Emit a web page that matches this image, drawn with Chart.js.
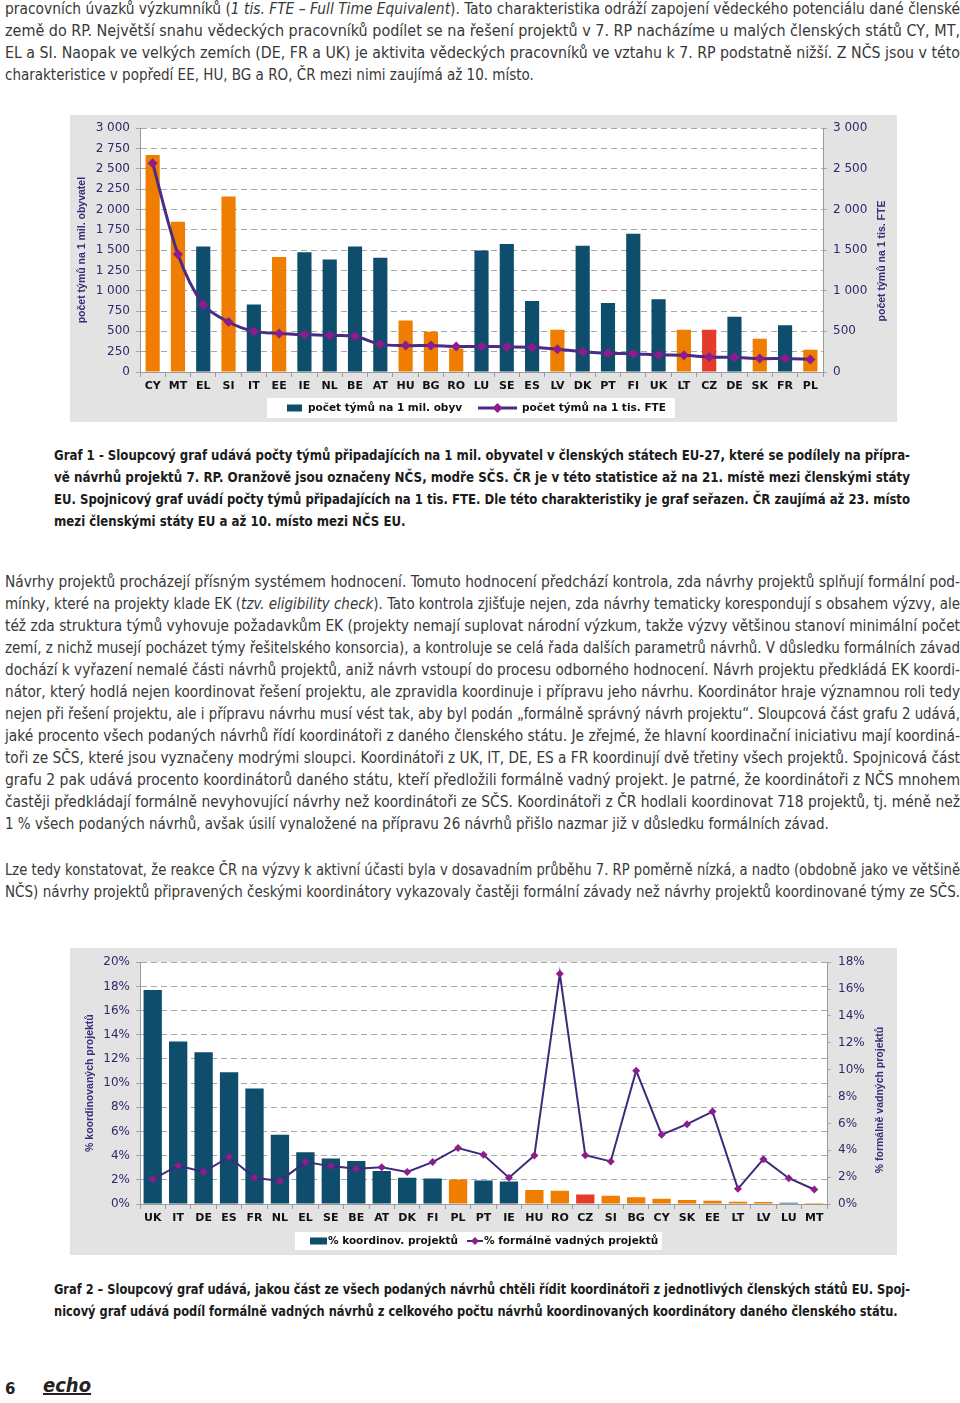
<!DOCTYPE html>
<html lang="cs">
<head>
<meta charset="utf-8">
<script src="https://cdn.jsdelivr.net/npm/chart.js@4.4.0/dist/chart.umd.min.js"></script>
<style>
html, body { margin: 0; padding: 0; background: #fff; }
#page { position: relative; width: 960px; height: 1403px; overflow: hidden; }
.txt { position: absolute; font-family: "DejaVu Sans Condensed", "DejaVu Sans", sans-serif; color: #383838; line-height: 22px; }
.body { left: 5px; width: 955px; font-size: 15px; }
.cap { left: 54px; width: 856px; font-size: 14.5px; font-weight: bold; color: #1b1b1b; }
.ln { white-space: nowrap; height: 22px; }
.ln .s { display: inline-block; transform-origin: 0 50%; }
.panel { position: absolute; left: 70px; width: 827px; height: 307px; background: #e3e3e3; }
#pgno { position: absolute; left: 5px; top: 1380px; font: bold 15px "DejaVu Sans", sans-serif; color: #222; }
#logo { position: absolute; left: 43px; top: 1373px; font: italic bold 20px "DejaVu Sans Condensed", sans-serif; color: #222; text-decoration: underline; }
</style>
</head>
<body>
<div id="page">

<div class="txt body" style="top:-2px">
<div class="ln">pracovních úvazků výzkumníků (<i>1 tis. FTE – Full Time Equivalent</i>). Tato charakteristika odráží zapojení vědeckého potenciálu dané členské</div>
<div class="ln">země do RP. Největší snahu vědeckých pracovníků podílet se na řešení projektů v 7. RP nacházíme u malých členských států CY, MT,</div>
<div class="ln">EL a SI. Naopak ve velkých zemích (DE, FR a UK) je aktivita vědeckých pracovníků ve vztahu k 7. RP podstatně nižší. Z NČS jsou v této</div>
<div class="ln end">charakteristice v popředí EE, HU, BG a RO, ČR mezi nimi zaujímá až 10. místo.</div>
</div>

<div class="panel" style="top:115px"><canvas id="chart1"></canvas></div>

<div class="txt cap" style="top:444px">
<div class="ln">Graf 1 -  Sloupcový graf udává počty týmů připadajících na 1 mil. obyvatel v členských státech EU-27, které se podílely na přípra-</div>
<div class="ln">vě návrhů projektů 7. RP.  Oranžově jsou označeny NČS, modře SČS. ČR je v této statistice až na 21. místě mezi členskými státy</div>
<div class="ln">EU. Spojnicový graf uvádí počty týmů připadajících na 1 tis. FTE. Dle této charakteristiky je graf seřazen.  ČR zaujímá až 23. místo</div>
<div class="ln end">mezi členskými státy EU a až 10. místo mezi NČS EU.</div>
</div>

<div class="txt body" style="top:571px">
<div class="ln">Návrhy projektů procházejí přísným systémem hodnocení. Tomuto hodnocení předchází kontrola, zda návrhy projektů splňují formální pod-</div>
<div class="ln">mínky, které na projekty klade EK (<i>tzv. eligibility check</i>). Tato kontrola zjišťuje nejen, zda návrhy tematicky korespondují s obsahem výzvy, ale</div>
<div class="ln">též zda struktura týmů vyhovuje požadavkům EK (projekty nemají suplovat národní výzkum, takže výzvy většinou stanoví minimální počet</div>
<div class="ln">zemí, z nichž musejí pocházet týmy řešitelského konsorcia), a kontroluje se celá řada dalších parametrů návrhů. V důsledku formálních závad</div>
<div class="ln">dochází k vyřazení nemalé části návrhů projektů, aniž návrh vstoupí do procesu odborného hodnocení. Návrh projektu předkládá EK koordi-</div>
<div class="ln">nátor, který hodlá nejen koordinovat řešení projektu, ale zpravidla koordinuje i přípravu jeho návrhu. Koordinátor hraje významnou roli tedy</div>
<div class="ln">nejen při řešení projektu, ale i přípravu návrhu musí vést tak, aby byl podán „formálně správný návrh projektu“. Sloupcová část grafu 2 udává,</div>
<div class="ln">jaké procento všech podaných návrhů řídí koordinátoři z daného členského státu. Je zřejmé, že hlavní koordinační iniciativu mají koordiná-</div>
<div class="ln">toři ze SČS, které jsou vyznačeny modrými sloupci. Koordinátoři z UK, IT, DE, ES a FR koordinují dvě třetiny všech projektů. Spojnicová část</div>
<div class="ln">grafu 2 pak udává procento koordinátorů daného státu, kteří předložili formálně vadný projekt. Je patrné, že koordinátoři z NČS mnohem</div>
<div class="ln">častěji předkládají formálně nevyhovující návrhy než koordinátoři ze SČS. Koordinátoři z ČR hodlali koordinovat 718 projektů, tj. méně než</div>
<div class="ln end">1 % všech podaných návrhů, avšak úsilí vynaložené na přípravu 26 návrhů přišlo nazmar již v důsledku formálních závad.</div>
</div>

<div class="txt body" style="top:859px">
<div class="ln">Lze tedy konstatovat, že reakce ČR na výzvy k aktivní účasti byla v dosavadním průběhu 7. RP poměrně nízká, a nadto (obdobně jako ve většině</div>
<div class="ln">NČS) návrhy projektů připravených českými koordinátory vykazovaly častěji formální závady než návrhy projektů koordinované týmy ze SČS.</div>
</div>

<div class="panel" style="top:948px"><canvas id="chart2"></canvas></div>

<div class="txt cap" style="top:1278px">
<div class="ln">Graf 2 – Sloupcový graf udává, jakou část ze všech podaných návrhů chtěli řídit koordinátoři z jednotlivých členských států EU. Spoj-</div>
<div class="ln end">nicový graf udává podíl formálně vadných návrhů z celkového počtu návrhů koordinovaných koordinátory daného členského státu.</div>
</div>

<div id="pgno">6</div>
<div id="logo">echo</div>
</div>

<script>
// Graf 1 data (sorted by teams per 1000 FTE)
const states1 = ['CY','MT','EL','SI','IT','EE','IE','NL','BE','AT','HU','BG','RO','LU','SE','ES','LV','DK','PT','FI','UK','LT','CZ','DE','SK','FR','PL'];
const groups1 = ['n','n','s','n','s','n','s','s','s','s','n','n','n','s','s','s','n','s','s','s','s','n','cz','s','n','s','n'];
const teamsPerMil = [2670,1850,1545,2160,830,1415,1475,1385,1545,1405,635,495,290,1495,1575,875,520,1555,850,1700,895,520,520,680,410,575,275];
const teamsPerFte = [2570,1450,830,615,500,475,460,450,440,340,325,325,315,315,310,305,280,250,230,225,210,205,185,180,165,165,155];

// Graf 2 data (sorted by share of coordinated proposals)
const states2 = ['UK','IT','DE','ES','FR','NL','EL','SE','BE','AT','DK','FI','PL','PT','IE','HU','RO','CZ','SI','BG','CY','SK','EE','LT','LV','LU','MT'];
const groups2 = ['s','s','s','s','s','s','s','s','s','s','s','s','n','s','s','n','n','cz','n','n','n','n','n','n','n','s','n'];
const coordShare = [17.7,13.45,12.55,10.9,9.55,5.73,4.28,3.77,3.55,2.73,2.18,2.1,2.02,1.94,1.86,1.15,1.09,0.79,0.68,0.55,0.44,0.33,0.27,0.19,0.16,0.11,0.08];
const faultyShare = [1.84,2.87,2.38,3.51,1.96,1.72,3.12,2.82,2.63,2.73,2.38,3.12,4.17,3.66,1.96,3.61,17.14,3.63,3.17,9.92,5.16,5.94,6.88,1.13,3.34,1.92,1.08];

const colorOf = { n: '#ef7d00', s: '#0e4d6b', cz: '#e53a2c' };
const tickColor = '#2c2a6a';
const titleColor = '#3b2a7c';
const lineGray = '#9a9a9a';
const titleFont = 'bold 10.5px "Liberation Sans"';

function spaced(v) {
    return String(v).replace(/\B(?=(\d{3})+(?!\d))/g, ' ');
}

// white plot area on the grey panel
const whiteArea = {
    id: 'whiteArea',
    beforeDraw(chart) {
        const { ctx, chartArea: a } = chart;
        ctx.save();
        ctx.fillStyle = '#fff';
        ctx.fillRect(a.left, a.top, a.width, a.height);
        ctx.restore();
    }
};

// right axis title reads bottom-to-top like the left one
function rightTitle(text, dx, cy) {
    return {
        id: 'rightTitle',
        afterDraw(chart) {
            const ctx = chart.ctx;
            ctx.save();
            ctx.translate(chart.chartArea.right + dx, cy);
            ctx.rotate(-Math.PI / 2);
            ctx.font = titleFont;
            ctx.fillStyle = titleColor;
            ctx.textAlign = 'center';
            ctx.textBaseline = 'middle';
            ctx.fillText(text, 0, 0);
            ctx.restore();
        }
    };
}

// legend in a white box, bar swatch + line with marker
function boxLegend(box, items) {
    return {
        id: 'boxLegend',
        afterDraw(chart) {
            const ctx = chart.ctx;
            const cy = box.y + box.h / 2;
            ctx.save();
            ctx.fillStyle = '#fff';
            ctx.fillRect(box.x, box.y, box.w, box.h);
            ctx.font = 'bold 10.5px "DejaVu Sans"';
            ctx.textBaseline = 'middle';
            items.forEach(it => {
                const ds = chart.data.datasets[it.ds];
                if (it.kind === 'bar') {
                    ctx.fillStyle = colorOf.s;
                    ctx.fillRect(it.x, cy - 3.5, it.w, 7);
                } else {
                    ctx.strokeStyle = ds.borderColor;
                    ctx.lineWidth = ds.borderWidth;
                    ctx.beginPath();
                    ctx.moveTo(it.x, cy);
                    ctx.lineTo(it.x + it.w, cy);
                    ctx.stroke();
                    const r = ds.pointRadius;
                    ctx.fillStyle = ds.pointBackgroundColor;
                    ctx.beginPath();
                    ctx.moveTo(it.x + it.w / 2, cy - r);
                    ctx.lineTo(it.x + it.w / 2 + r, cy);
                    ctx.lineTo(it.x + it.w / 2, cy + r);
                    ctx.lineTo(it.x + it.w / 2 - r, cy);
                    ctx.closePath();
                    ctx.fill();
                }
                ctx.fillStyle = '#111';
                ctx.fillText(ds.label, it.tx, cy + 0.5);
            });
            ctx.restore();
        }
    };
}

function axisTitle(text, pad) {
    return { display: true, text: text, color: titleColor, font: { family: 'Liberation Sans', size: 10.5, weight: 'bold' }, padding: { top: pad, bottom: 0 } };
}

const catAxis = {
    offset: true,
    grid: { offset: true, drawOnChartArea: false, color: lineGray, tickLength: 5 },
    border: { color: lineGray },
    ticks: { color: '#111', font: { family: 'DejaVu Sans', size: 11, weight: 'bold' }, padding: 3, autoSkip: false, maxRotation: 0 },
    afterFit(s) { s.height = 24; }
};

const tickFont = { family: 'DejaVu Sans', size: 12 };

new Chart(document.getElementById('chart1'), {
    data: {
        labels: states1,
        datasets: [
            {
                type: 'line',
                label: 'počet týmů na 1 tis. FTE',
                data: teamsPerFte,
                yAxisID: 'y2',
                borderColor: '#4b2b85',
                borderWidth: 3,
                tension: 0.3,
                pointStyle: 'rectRot',
                pointRadius: 5,
                pointBackgroundColor: '#8d1c8c',
                pointBorderColor: '#8d1c8c',
                pointBorderWidth: 0,
                order: 0
            },
            {
                type: 'bar',
                label: 'počet týmů na 1 mil. obyv',
                data: teamsPerMil,
                yAxisID: 'y',
                backgroundColor: groups1.map(g => colorOf[g]),
                barPercentage: 0.56,
                categoryPercentage: 1,
                order: 1
            }
        ]
    },
    options: {
        responsive: true,
        maintainAspectRatio: false,
        animation: false,
        layout: { padding: { top: 12, bottom: 26, left: 0, right: 0 } },
        plugins: { legend: { display: false }, tooltip: { enabled: false } },
        scales: {
            x: catAxis,
            y: {
                position: 'left', min: 0, max: 3000,
                ticks: { stepSize: 250, callback: spaced, color: tickColor, font: tickFont, padding: 6 },
                grid: { color: '#a8a8a8', tickLength: 4 },
                border: { color: lineGray, dash: [6, 4] },
                title: axisTitle('počet týmů na 1 mil. obyvatel', 6),
                afterFit(s) { s.width = 70; }
            },
            y2: {
                position: 'right', min: 0, max: 3000,
                ticks: { stepSize: 500, callback: spaced, color: tickColor, font: tickFont, padding: 6 },
                grid: { drawOnChartArea: false, color: '#a8a8a8', tickLength: 4 },
                border: { color: lineGray },
                afterFit(s) { s.width = 74; }
            }
        }
    },
    plugins: [whiteArea, rightTitle('počet týmů na 1 tis. FTE', 59, 146), boxLegend({ x: 197, y: 283, w: 408, h: 20 }, [
        { ds: 1, kind: 'bar', x: 217, w: 15, tx: 238 },
        { ds: 0, kind: 'line', x: 408, w: 39, tx: 452 }
    ])]
});

new Chart(document.getElementById('chart2'), {
    data: {
        labels: states2,
        datasets: [
            {
                type: 'line',
                label: '% formálně vadných projektů',
                data: faultyShare,
                yAxisID: 'y2',
                borderColor: '#40297c',
                borderWidth: 2,
                tension: 0,
                pointStyle: 'rectRot',
                pointRadius: 4,
                pointBackgroundColor: '#8d1c8c',
                pointBorderColor: '#8d1c8c',
                pointBorderWidth: 0,
                order: 0
            },
            {
                type: 'bar',
                label: '% koordinov. projektů',
                data: coordShare,
                yAxisID: 'y',
                backgroundColor: groups2.map(g => colorOf[g]),
                barPercentage: 0.72,
                categoryPercentage: 1,
                order: 1
            }
        ]
    },
    options: {
        responsive: true,
        maintainAspectRatio: false,
        animation: false,
        layout: { padding: { top: 12, bottom: 27, left: 0, right: 0 } },
        plugins: { legend: { display: false }, tooltip: { enabled: false } },
        scales: {
            x: catAxis,
            y: {
                position: 'left', min: 0, max: 20,
                ticks: { stepSize: 2, callback: v => v + '%', color: tickColor, font: tickFont, padding: 6 },
                grid: { color: '#a8a8a8', tickLength: 4 },
                border: { color: lineGray, dash: [6, 4] },
                title: axisTitle('% koordinovaných projektů', 14),
                afterFit(s) { s.width = 70; }
            },
            y2: {
                position: 'right', min: 0, max: 18,
                ticks: { stepSize: 2, callback: v => v + '%', color: tickColor, font: tickFont, padding: 7 },
                grid: { drawOnChartArea: false, color: '#a8a8a8', tickLength: 4 },
                border: { color: lineGray },
                afterFit(s) { s.width = 70; }
            }
        }
    },
    plugins: [whiteArea, rightTitle('% formálně vadných projektů', 53, 152), boxLegend({ x: 225, y: 284, w: 367, h: 18 }, [
        { ds: 1, kind: 'bar', x: 240, w: 17, tx: 258 },
        { ds: 0, kind: 'line', x: 397, w: 16, tx: 414 }
    ])]
});

// squeeze every full line to the column width; last lines use the block's average squeeze
function fitLines() {
    document.querySelectorAll('.txt').forEach(block => {
        const W = block.clientWidth;
        const lines = [...block.querySelectorAll('.ln')];
        lines.forEach(el => {
            if (!el.querySelector('.s')) el.innerHTML = '<span class="s">' + el.innerHTML + '</span>';
            el.firstChild.style.transform = '';
        });
        const ratios = [];
        lines.forEach(el => {
            if (el.classList.contains('end')) return;
            const k = W / el.firstChild.getBoundingClientRect().width;
            ratios.push(k);
            el.firstChild.style.transform = 'scaleX(' + k + ')';
        });
        const avg = ratios.length ? ratios.reduce((a, b) => a + b, 0) / ratios.length : 1;
        lines.forEach(el => {
            if (el.classList.contains('end')) el.firstChild.style.transform = 'scaleX(' + Math.min(avg, 1) + ')';
        });
    });
}
fitLines();
if (document.fonts) document.fonts.ready.then(fitLines);
</script>
</body>
</html>
